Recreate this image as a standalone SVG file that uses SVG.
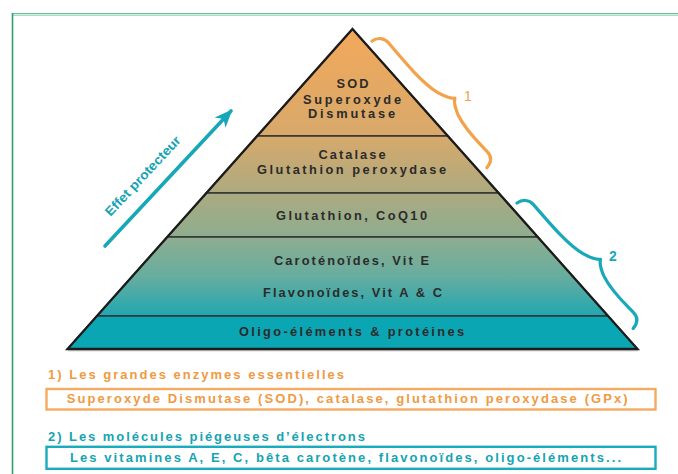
<svg xmlns="http://www.w3.org/2000/svg" width="678" height="474" viewBox="0 0 678 474">
<style>
  .pt { font-family: "Liberation Sans", Arial, sans-serif; font-weight: 700; font-size: 12.8px; fill: #2b2b2b; text-anchor: middle; }
  .layer { stroke: #333; stroke-width: 1.6; }
  .org { fill: #f09a42; }
  .teal { fill: #16a3b3; }
  .bt { font-family: "Liberation Sans", Arial, sans-serif; font-weight: 700; font-size: 13px; }
  .brace { fill: none; stroke-width: 3.2; stroke-linecap: round; stroke-linejoin: round; }
</style>
<defs>
  <linearGradient id="pg" gradientUnits="userSpaceOnUse" x1="0" y1="29" x2="0" y2="316">
    <stop offset="0" stop-color="#f2a85a"/>
    <stop offset="0.37" stop-color="#d8a96b"/>
    <stop offset="0.57" stop-color="#acaa80"/>
    <stop offset="0.72" stop-color="#8fad8f"/>
    <stop offset="0.86" stop-color="#68ad9f"/>
    <stop offset="1" stop-color="#20a7b1"/>
  </linearGradient>
  <marker id="ah" markerUnits="userSpaceOnUse" markerWidth="20" markerHeight="18" refX="16" refY="9" orient="auto">
    <path d="M0,1.5 L18,9 L0,16.5 L5,9 z" fill="#16a8b8"/>
  </marker>
  <path id="br" d="M0,0 C1,-7 6,-11 12,-11 C40,-10 66,-9 82,-14 C91,-17 96,-20 98,-23 C100,-20 104,-17 113,-14 C130,-9 150,-11 160,-11 C166,-11 170,-7 171,0"/>
</defs>

<!-- frame -->
<g id="frame">
  <line x1="12" y1="13.5" x2="678" y2="13.5" stroke="#6cbf96" stroke-width="1.2"/>
  <line x1="12" y1="15.2" x2="678" y2="15.2" stroke="#a9dcc1" stroke-width="1.6"/>
  <line x1="12.5" y1="13" x2="12.5" y2="474" stroke="#2e9f6a" stroke-width="1.6"/>
</g>

<!-- pyramid layers -->
<g id="layer-sod">
  <polygon class="layer" points="352.5,29 447.8,136 257.2,136" fill="url(#pg)"/>
  <text class="pt" x="352.5" y="88" textLength="32" lengthAdjust="spacing">SOD</text>
  <text class="pt" x="352" y="103.5" textLength="98" lengthAdjust="spacing">Superoxyde</text>
  <text class="pt" x="351.5" y="117.5" textLength="87" lengthAdjust="spacing">Dismutase</text>
</g>
<g id="layer-catalase">
  <polygon class="layer" points="257.2,136 447.8,136 498.6,193 206.4,193" fill="url(#pg)"/>
  <text class="pt" x="352" y="158.5" textLength="67" lengthAdjust="spacing">Catalase</text>
  <text class="pt" x="351.5" y="173.5" textLength="189" lengthAdjust="spacing">Glutathion peroxydase</text>
</g>
<g id="layer-glutathion">
  <polygon class="layer" points="206.4,193 498.6,193 537.7,237 167.3,237" fill="url(#pg)"/>
  <text class="pt" x="351.5" y="219.5" textLength="151" lengthAdjust="spacing">Glutathion, CoQ10</text>
</g>
<g id="layer-carotenoides">
  <polygon class="layer" points="167.3,237 537.7,237 608.1,316 96.9,316" fill="url(#pg)"/>
  <text class="pt" x="351.5" y="264.5" textLength="155" lengthAdjust="spacing">Caroténoïdes, Vit E</text>
  <text class="pt" x="352.5" y="297" textLength="179" lengthAdjust="spacing">Flavonoïdes, Vit A &amp; C</text>
</g>
<g id="layer-oligo">
  <polygon class="layer" points="96.9,316 608.1,316 637.5,349 67.5,349" fill="#0ba6b4"/>
  <text class="pt" x="351.5" y="335.5" textLength="225" lengthAdjust="spacing">Oligo-éléments &amp; protéines</text>
</g>
<g id="pyramid-outline">
  <line x1="68" y1="350.8" x2="638" y2="350.8" stroke="#bbb" stroke-width="1"/>
  <polygon points="352.5,29 637.5,349 67.5,349" fill="none" stroke="#1c1c1c" stroke-width="2.3" stroke-linejoin="miter"/>
</g>

<!-- connectors: arrow and braces -->
<g id="connectors">
  <line x1="105" y1="246" x2="231" y2="111" stroke="#16a8b8" stroke-width="3.6" stroke-linecap="round" marker-end="url(#ah)"/>
  <use href="#br" class="brace" stroke="#f2a24a" transform="translate(372,41) rotate(47.8)"/>
  <use href="#br" class="brace" stroke="#18a8ba" transform="translate(517,203) rotate(47.2)"/>
</g>

<g id="label-effet">
  <text class="bt teal" transform="translate(146,179) rotate(-47)" text-anchor="middle" font-size="12.5" textLength="104" lengthAdjust="spacingAndGlyphs">Effet protecteur</text>
</g>
<g id="label-1">
  <text x="468" y="101" font-family="Liberation Sans, Arial, sans-serif" font-size="14" fill="#f2a24a" text-anchor="middle">1</text>
</g>
<g id="label-2">
  <text x="613" y="261" font-family="Liberation Sans, Arial, sans-serif" font-size="14" font-weight="700" fill="#18a8ba" text-anchor="middle">2</text>
</g>

<!-- legend -->
<g id="legend-1">
  <text class="bt org" x="48" y="379.3" textLength="296" lengthAdjust="spacing">1) Les grandes enzymes essentielles</text>
  <rect x="46.5" y="389" width="609" height="20.5" fill="none" stroke="#f5aa62" stroke-width="2.4"/>
  <text class="bt org" x="66.7" y="403.3" textLength="561" lengthAdjust="spacing">Superoxyde Dismutase (SOD), catalase, glutathion peroxydase (GPx)</text>
</g>
<g id="legend-2">
  <text class="bt teal" x="48" y="441.3" textLength="317" lengthAdjust="spacing">2) Les molécules piégeuses d’électrons</text>
  <rect x="46.5" y="446.8" width="609" height="22" fill="none" stroke="#1aacbc" stroke-width="2.4"/>
  <text class="bt teal" x="70" y="461.7" textLength="551" lengthAdjust="spacing">Les vitamines A, E, C, bêta carotène, flavonoïdes, oligo-éléments...</text>
</g>
</svg>
